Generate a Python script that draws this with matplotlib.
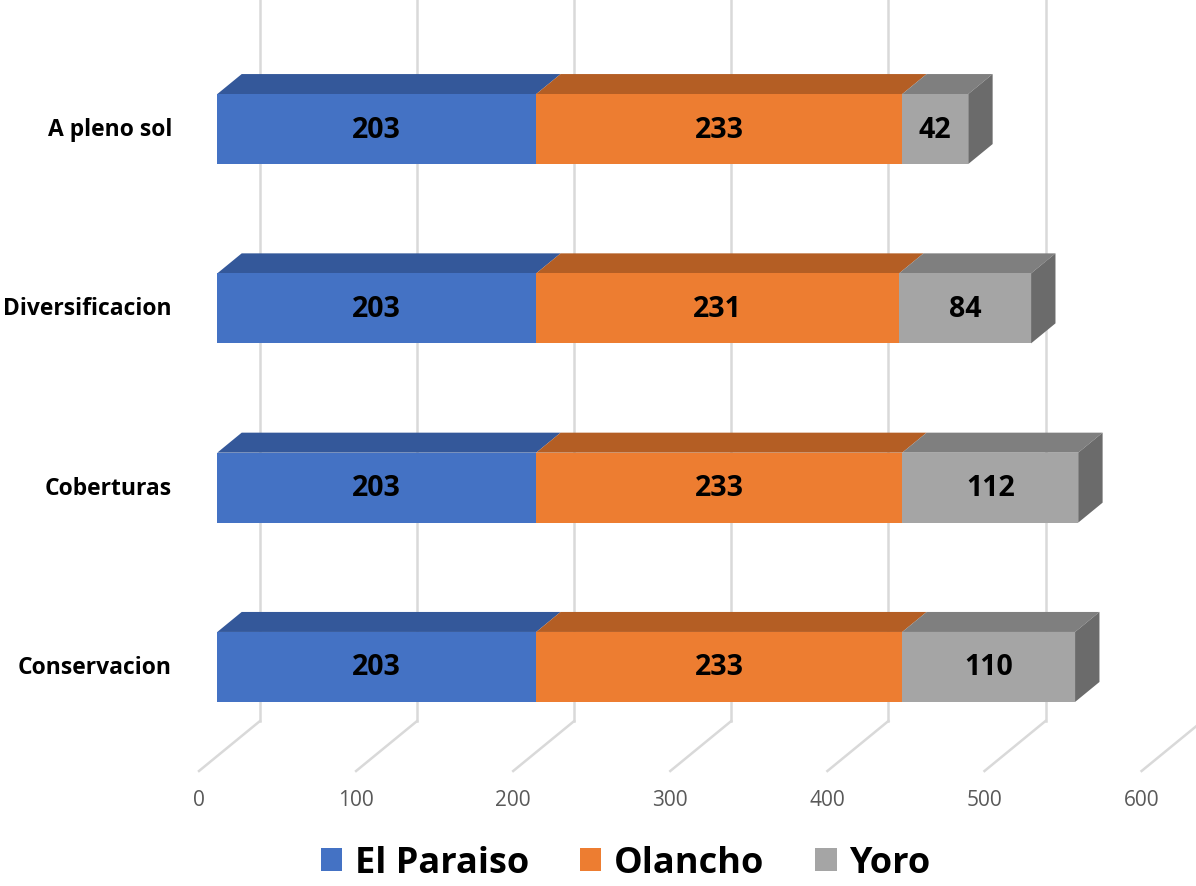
import matplotlib
matplotlib.use('Agg')
import matplotlib.pyplot as plt
from matplotlib.patches import Polygon, Patch

categories = ["Conservacion", "Coberturas", "Diversificacion", "A pleno sol"]
el_paraiso = [203, 203, 203, 203]
olancho = [233, 233, 231, 233]
yoro = [110, 112, 84, 42]
series_names = ["El Paraiso", "Olancho", "Yoro"]
x_ticks = [0, 100, 200, 300, 400, 500, 600]

# front / top / side shades for each series
front_cols = ["#4472C4", "#ED7D31", "#A5A5A5"]
top_cols = ["#34589A", "#B45E24", "#7F7F7F"]
side_cols = ["#6B6B6B", "#6B6B6B", "#6B6B6B"]

W, H = 1196, 887
SCALE = 1.571      # px per value unit
ROW = 179.3        # px per category row
X_ORIGIN = 199     # px where value 0 meets the front of the floor
DX = 61 / SCALE    # oblique depth offset in value units
DY = 50 / ROW      # oblique depth offset in row units
FLOOR = (H - 772) / ROW
ROW0 = 1.138
HALF = 35 / ROW
D_FRONT, D_BACK = 0.3, 0.7


def proj(v, y, d):
    return (v + DX * d, y + DY * d)


fig = plt.figure(figsize=(W / 100, H / 100), dpi=100)
ax = fig.add_axes([0, 0, 1, 1])
ax.set_xlim(-X_ORIGIN / SCALE, (W - X_ORIGIN) / SCALE)
ax.set_ylim(0, H / ROW)
ax.axis('off')

grid_col = "#D9D9D9"
for t in x_ticks:
    (x0, y0), (x1, y1) = proj(t, FLOOR, 0), proj(t, FLOOR, 1)
    ax.plot([x0, x1], [y0, y1], color=grid_col, lw=1.8, zorder=1)
    ax.plot([x1, x1], [y1, H / ROW], color=grid_col, lw=1.8, zorder=1)
    ax.text(x0, (H - 801) / ROW, str(t), ha='center', va='center',
            fontsize=15, color="#595959", family="Open Sans")

for i, cat in enumerate(categories):
    yc = ROW0 + i
    lo, hi = yc - HALF, yc + HALF
    vals = [el_paraiso[i], olancho[i], yoro[i]]
    start = 0
    for k, v in enumerate(vals):
        end = start + v
        front = [proj(start, lo, D_FRONT), proj(end, lo, D_FRONT),
                 proj(end, hi, D_FRONT), proj(start, hi, D_FRONT)]
        top = [proj(start, hi, D_FRONT), proj(end, hi, D_FRONT),
               proj(end, hi, D_BACK), proj(start, hi, D_BACK)]
        ax.add_patch(Polygon(top, closed=True, fc=top_cols[k], ec='none', zorder=3))
        ax.add_patch(Polygon(front, closed=True, fc=front_cols[k], ec='none', zorder=4))
        if k == len(vals) - 1:
            side = [proj(end, lo, D_FRONT), proj(end, lo, D_BACK),
                    proj(end, hi, D_BACK), proj(end, hi, D_FRONT)]
            ax.add_patch(Polygon(side, closed=True, fc=side_cols[k], ec='none', zorder=3))
        cx, cy = proj((start + end) / 2, yc, D_FRONT)
        ax.text(cx, cy, str(v), ha='center', va='center', fontsize=20.5,
                fontweight='bold', color='black', family="Open Sans", zorder=5)
        start = end
    lx, ly = proj(0, yc, D_FRONT)
    ax.text((172 - X_ORIGIN) / SCALE, ly, cat, ha='right', va='center',
            fontsize=16.5, fontweight='bold', color='black', family="Open Sans")

handles = [Patch(fc=c, ec='none', label=n) for c, n in zip(front_cols, series_names)]
ax.legend(handles=handles, loc='center', bbox_to_anchor=(0.523, 0.026), ncol=3,
          frameon=False, handlelength=0.6, handleheight=0.6, handletextpad=0.35,
          columnspacing=1.4, borderpad=0.1,
          prop={'family': 'Open Sans', 'weight': 'bold', 'size': 26})

fig.savefig("out.png", dpi=100)
